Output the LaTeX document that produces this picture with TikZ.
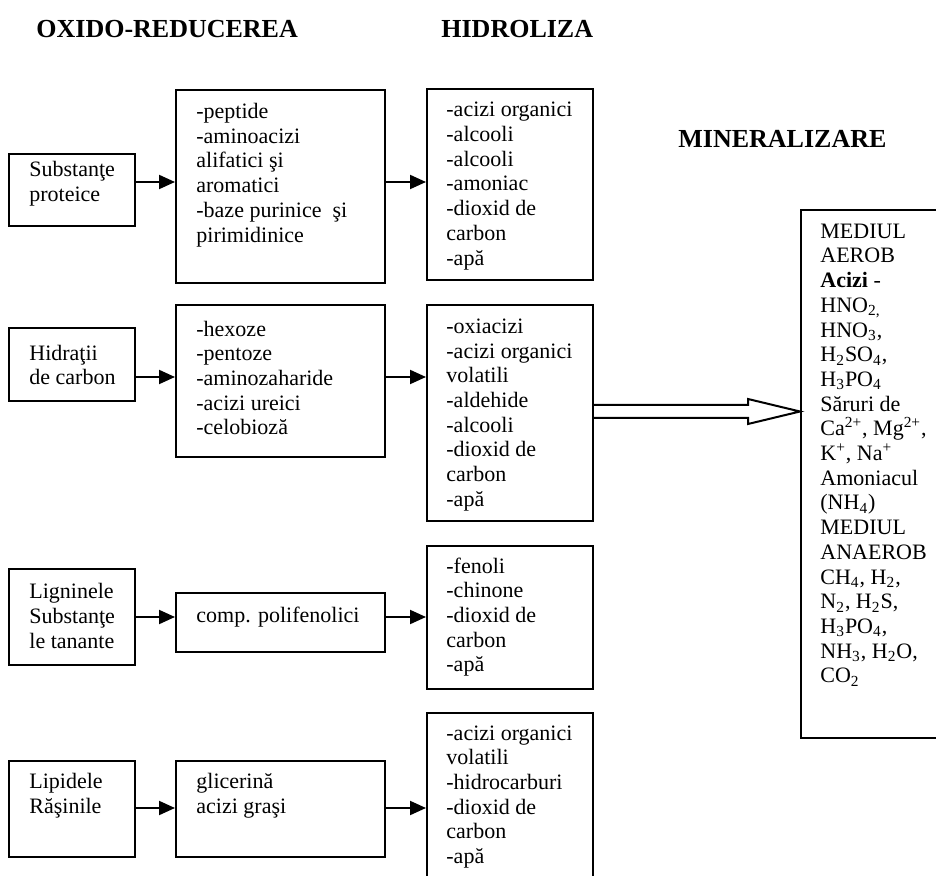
\documentclass[tikz,border=0pt]{standalone}
\usepackage{fontspec}
\setmainfont{Liberation Serif}
\usetikzlibrary{arrows.meta}
\tikzset{
  box/.style={draw, line width=1pt, anchor=north west, inner sep=0pt},
  txt/.style={anchor=west, inner sep=0pt, align=left, font=\fontsize{11}{12.35}\selectfont},
  ttl/.style={anchor=west, inner sep=0pt, font=\fontsize{13}{15}\selectfont\bfseries},
  arr/.style={line width=1pt, -{Triangle[length=8pt,width=7pt]}},
  blockarrow/.style={line width=1pt, fill=white, line join=miter},
}
\newcommand\mybox[5]{\node[box, minimum width=#4*0.5pt, minimum height=#5*0.5pt] (#1) at (#2,#3) {};}
\begin{document}
\begin{tikzpicture}[x=0.5pt,y=-0.5pt]
\useasboundingbox (0,0) rectangle (936,876);
\fill[white] (0,0) rectangle (936,876);
\clip (0,0) rectangle (936,876);
\lineskiplimit=-20pt
% titles
\node[ttl] (t1) at (36,29) {OXIDO-REDUCEREA};
\node[ttl] (t2) at (441,29) {HIDROLIZA};
\node[ttl] (t3) at (678,139) {MINERALIZARE};
% boxes
\mybox{A1}{8}{153}{126}{72}
\mybox{A2}{175}{89}{209}{193}
\mybox{A3}{426}{88}{166}{191}
\mybox{B1}{8}{327}{126}{73}
\mybox{B2}{175}{304}{209}{152}
\mybox{B3}{426}{304}{166}{216}
\mybox{C1}{8}{568}{126}{96}
\mybox{C2}{175}{592}{209}{59}
\mybox{C3}{426}{545}{166}{143}
\mybox{D1}{8}{760}{126}{96}
\mybox{D2}{175}{760}{209}{96}
\mybox{D3}{426}{712}{166}{220}
\mybox{R}{800}{209}{220}{528}
% texts
\node[txt] (A1t) at (29,184) {Substanţe\\proteice};
\node[txt] (A2t) at (196,175) {-peptide\\-aminoacizi\\alifatici şi\\aromatici\\-baze purinice\ \ şi\\pirimidinice};
\node[txt] (A3t) at (446,186) {-acizi organici\\-alcooli\\-alcooli\\-amoniac\\-dioxid de\\carbon\\-apă};
\node[txt] (B1t) at (29,365) {Hidraţii\\de carbon};
\node[txt] (B2t) at (196,378) {-hexoze\\-pentoze\\-aminozaharide\\-acizi ureici\\-celobioză};
\node[txt] (B3t) at (446,415) {-oxiacizi\\-acizi organici\\volatili\\-aldehide\\-alcooli\\-dioxid de\\carbon\\-apă};
\node[txt] (C1t) at (29,616) {Ligninele\\Substanţe\\le tanante};
\node[txt] (C2t) at (196,617) {comp. polifenolici};
\node[txt] (C3t) at (446,617) {-fenoli\\-chinone\\-dioxid de\\carbon\\-apă};
\node[txt] (D1t) at (29,796) {Lipidele\\Răşinile};
\node[txt] (D2t) at (196,796) {glicerină\\acizi graşi};
\node[txt] (D3t) at (446,797) {-acizi organici\\volatili\\-hidrocarburi\\-dioxid de\\carbon\\-apă};
\node[txt] (Rt) at (820,455) {MEDIUL\\AEROB\\\textbf{Acizi} -\\HNO\textsubscript{2,}\\HNO\textsubscript{3},\\H\textsubscript{2}SO\textsubscript{4},\\H\textsubscript{3}PO\textsubscript{4}\\Săruri de\\Ca\textsuperscript{2+}, Mg\textsuperscript{2+},\\K\textsuperscript{+}, Na\textsuperscript{+}\\Amoniacul\\(NH\textsubscript{4})\\MEDIUL\\ANAEROB\\CH\textsubscript{4}, H\textsubscript{2},\\N\textsubscript{2}, H\textsubscript{2}S,\\H\textsubscript{3}PO\textsubscript{4},\\NH\textsubscript{3}, H\textsubscript{2}O,\\CO\textsubscript{2}};
% arrow rows
\coordinate (ya) at (0,182);
\coordinate (yb) at (0,377);
\coordinate (yc) at (0,617);
\coordinate (yd) at (0,808);
\draw[arr] (A1.east |- ya) -- (A2.west |- ya);
\draw[arr] (A2.east |- ya) -- (A3.west |- ya);
\draw[arr] (B1.east |- yb) -- (B2.west |- yb);
\draw[arr] (B2.east |- yb) -- (B3.west |- yb);
\draw[arr] (C1.east |- yc) -- (C2.west |- yc);
\draw[arr] (C2.east |- yc) -- (C3.west |- yc);
\draw[arr] (D1.east |- yd) -- (D2.west |- yd);
\draw[arr] (D2.east |- yd) -- (D3.west |- yd);
% block arrow to mineralization
\coordinate (s1) at (0,405);
\coordinate (s2) at (0,418);
\coordinate (tip) at (0,411.5);
\draw[blockarrow] (B3.east |- s1) -- (748,405) -- (748,399) -- (R.west |- tip) -- (748,424) -- (748,418) -- (B3.east |- s2);
\end{tikzpicture}
\end{document}
